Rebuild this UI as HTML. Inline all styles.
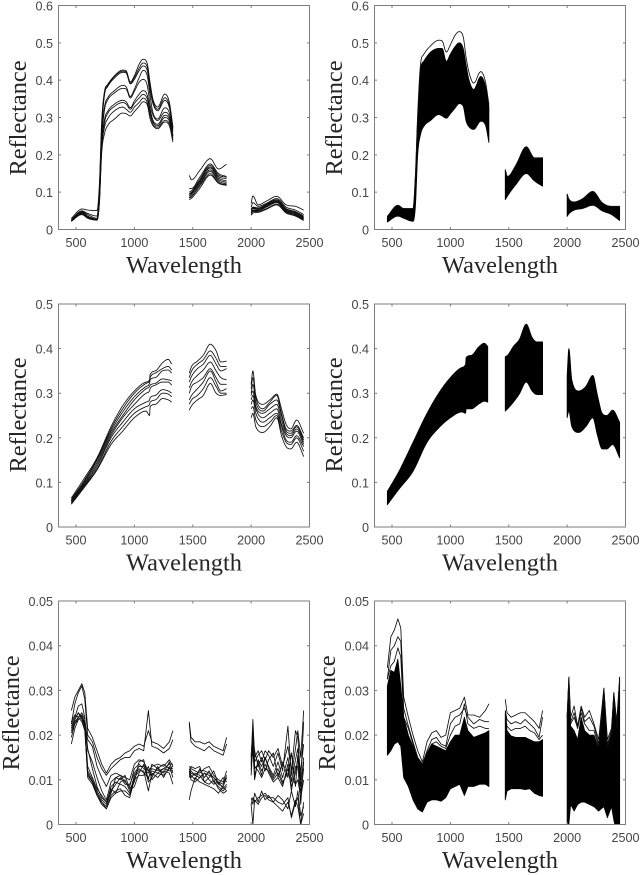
<!DOCTYPE html>
<html>
<head>
<meta charset="utf-8">
<title>Reflectance spectra</title>
<style>
html,body{margin:0;padding:0;background:#fff;width:640px;height:875px;overflow:hidden}
svg{display:block}
.tick{font-family:"Liberation Sans",sans-serif;font-size:12.6px;fill:#454545}
.title{font-family:"Liberation Serif",serif;font-size:24.4px;fill:#262626}
</style>
</head>
<body>
<svg id="chart" xmlns="http://www.w3.org/2000/svg" width="640" height="875" viewBox="0 0 640 875">
<defs><filter id="soft" filterUnits="userSpaceOnUse" x="0" y="0" width="640" height="875"><feGaussianBlur stdDeviation="0.35"/></filter></defs>
<g id="root" filter="url(#soft)"></g>
</svg>
<script>
const xTicks = [500,1000,1500,2000,2500];
const yTicksTop = [0,0.1,0.2,0.3,0.4,0.5,0.6];
const yTicksMiddle = [0,0.1,0.2,0.3,0.4,0.5];
const yTicksBottom = [0,0.01,0.02,0.03,0.04,0.05];
const yLabelsTop = ["0","0.1","0.2","0.3","0.4","0.5","0.6"];
const yLabelsMiddle = ["0","0.1","0.2","0.3","0.4","0.5"];
const yLabelsBottom = ["0","0.01","0.02","0.03","0.04","0.05"];

const wavesTop = [460,550,600,680,700,720,745,770,830,900,930,965,1000,1040,1075,1110,1135,1160,1200,1260,1300,1330,1470,1490,1560,1650,1720,1790,2000,2015,2060,2130,2220,2300,2380,2450];
const wavesMiddle = [460,560,680,800,900,1000,1100,1130,1135,1180,1240,1290,1320,1470,1490,1540,1590,1650,1700,1740,1790,2000,2015,2040,2100,2160,2220,2260,2300,2340,2390,2450];
const wavesBottom = [460,490,520,550,575,600,640,680,720,760,800,840,880,920,960,1000,1040,1080,1120,1150,1200,1250,1300,1330,1470,1485,1520,1560,1600,1640,1680,1720,1760,1790,2000,2015,2030,2060,2090,2120,2150,2190,2230,2270,2315,2345,2380,2400,2425,2450];

const topLeftSeries = [
[.030,.055,.052,.051,.120,.290,.372,.388,.412,.427,.425,.395,.412,.442,.456,.445,.392,.348,.328,.363,.340,.275,.145,.133,.158,.190,.162,.175,.070,.090,.066,.076,.089,.066,.062,.052],
[.027,.050,.043,.036,.110,.275,.368,.385,.410,.424,.422,.392,.407,.432,.446,.436,.382,.342,.322,.353,.332,.272,.110,.110,.140,.176,.150,.142,.060,.072,.062,.070,.083,.060,.052,.040],
[.025,.048,.040,.030,.100,.265,.362,.382,.406,.421,.419,.390,.402,.425,.438,.426,.372,.336,.318,.346,.326,.268,.100,.104,.134,.172,.146,.140,.055,.060,.058,.068,.080,.056,.048,.036],
[.024,.047,.036,.028,.092,.250,.330,.352,.372,.386,.382,.356,.376,.406,.426,.412,.356,.312,.296,.326,.312,.262,.096,.100,.130,.168,.142,.136,.052,.058,.056,.066,.078,.054,.046,.034],
[.024,.046,.034,.027,.086,.240,.322,.346,.366,.378,.376,.352,.370,.394,.402,.386,.334,.306,.292,.314,.302,.252,.094,.098,.128,.165,.138,.130,.050,.056,.054,.064,.076,.052,.044,.032],
[.023,.044,.033,.027,.080,.228,.296,.316,.336,.346,.342,.326,.344,.362,.372,.360,.322,.292,.282,.306,.296,.250,.090,.096,.124,.160,.134,.126,.046,.052,.052,.062,.074,.050,.042,.030],
[.023,.043,.032,.026,.076,.222,.288,.310,.330,.340,.336,.322,.338,.352,.362,.350,.315,.288,.278,.300,.290,.245,.086,.092,.120,.156,.130,.122,.044,.050,.050,.060,.072,.048,.040,.028],
[.022,.042,.031,.026,.072,.215,.275,.296,.318,.328,.322,.314,.328,.340,.352,.340,.306,.282,.274,.292,.284,.240,.084,.088,.116,.150,.126,.120,.040,.048,.048,.056,.068,.046,.038,.026],
[.022,.040,.030,.025,.068,.205,.258,.278,.296,.312,.310,.304,.316,.330,.342,.334,.296,.278,.270,.288,.278,.234,.080,.084,.110,.146,.124,.118,.038,.044,.046,.054,.066,.044,.036,.024]
];
const topRightUpper = [.035,.065,.056,.056,.140,.300,.430,.450,.475,.485,.485,.450,.470,.490,.500,.485,.440,.400,.375,.410,.385,.330,.160,.140,.170,.220,.190,.192,.095,.080,.073,.080,.102,.070,.062,.062];
const topRightLower = [.020,.036,.030,.022,.060,.200,.255,.275,.292,.308,.304,.298,.310,.325,.337,.330,.290,.275,.268,.290,.280,.233,.080,.090,.120,.150,.130,.116,.035,.042,.052,.056,.065,.050,.040,.024];
const topRightOutliers = [
[.035,.065,.056,.056,.145,.310,.445,.468,.492,.507,.505,.475,.495,.520,.530,.516,.460,.420,.392,.423,.396,.335,.160,.142,.172,.222,.192,.192,.095,.082,.074,.082,.102,.072,.062,.062]
];

const middleLeftSeries = [
[.065,.105,.155,.225,.272,.305,.325,.330,.342,.350,.368,.376,.365,.345,.360,.372,.385,.410,.395,.370,.372,.320,.350,.295,.275,.285,.298,.265,.230,.220,.240,.210],
[.062,.100,.152,.220,.265,.300,.322,.328,.335,.345,.355,.360,.352,.335,.350,.365,.375,.395,.378,.360,.360,.310,.335,.290,.265,.280,.295,.255,.220,.215,.228,.200],
[.060,.098,.150,.215,.258,.292,.315,.322,.330,.335,.350,.352,.345,.325,.338,.355,.365,.385,.365,.350,.355,.300,.320,.280,.260,.275,.285,.250,.215,.210,.225,.195],
[.058,.095,.145,.210,.250,.285,.310,.315,.318,.322,.332,.330,.328,.312,.325,.340,.352,.370,.350,.335,.330,.295,.305,.270,.255,.265,.275,.240,.210,.205,.220,.190],
[.056,.092,.140,.205,.245,.275,.300,.305,.310,.318,.325,.325,.318,.300,.315,.325,.335,.355,.335,.320,.320,.285,.295,.265,.245,.255,.265,.230,.205,.200,.215,.185],
[.055,.090,.135,.200,.235,.265,.280,.285,.290,.295,.308,.305,.300,.285,.295,.310,.325,.350,.325,.305,.310,.275,.285,.255,.235,.245,.255,.225,.195,.190,.205,.180],
[.053,.088,.130,.192,.225,.255,.270,.275,.280,.285,.300,.298,.292,.275,.285,.295,.310,.335,.315,.300,.300,.265,.270,.240,.225,.235,.250,.215,.190,.185,.200,.170],
[.051,.085,.128,.185,.215,.245,.260,.250,.270,.275,.288,.285,.280,.262,.272,.285,.295,.322,.300,.295,.297,.245,.255,.225,.212,.225,.245,.205,.180,.175,.190,.158]
];
const middleRightUpper = [.080,.125,.190,.255,.300,.335,.358,.365,.380,.385,.403,.412,.405,.382,.385,.405,.420,.455,.425,.415,.415,.340,.400,.330,.305,.315,.340,.295,.255,.250,.262,.235];
const middleRightLower = [.050,.085,.125,.190,.222,.245,.258,.255,.265,.265,.275,.282,.280,.260,.265,.280,.298,.325,.305,.297,.297,.245,.260,.225,.212,.225,.245,.205,.175,.175,.185,.155];

const bottomLeftSeries = [
[.0255,.0285,.0300,.0315,.0295,.0215,.0195,.0165,.0135,.0115,.0135,.0145,.0150,.0160,.0165,.0175,.0180,.0175,.0210,.0185,.0180,.0170,.0185,.0210,.0230,.0195,.0185,.0185,.0180,.0185,.0175,.0170,.0165,.0195,.0140,.0235,.0150,.0165,.0140,.0165,.0155,.0130,.0160,.0120,.0220,.0110,.0170,.0210,.0150,.0255],
[.0225,.0270,.0295,.0310,.0280,.0200,.0185,.0150,.0125,.0110,.0125,.0135,.0145,.0150,.0150,.0165,.0170,.0165,.0255,.0175,.0170,.0160,.0170,.0190,.0225,.0185,.0175,.0170,.0165,.0175,.0165,.0160,.0155,.0180,.0150,.0220,.0140,.0155,.0165,.0145,.0165,.0150,.0170,.0130,.0175,.0120,.0210,.0195,.0100,.0230],
[.0225,.0240,.0265,.0270,.0240,.0165,.0140,.0105,.0075,.0055,.0095,.0105,.0110,.0095,.0085,.0125,.0135,.0125,.0115,.0125,.0120,.0125,.0135,.0135,.0130,.0125,.0120,.0115,.0125,.0130,.0110,.0100,.0095,.0120,.0130,.0205,.0125,.0135,.0110,.0150,.0130,.0110,.0140,.0105,.0150,.0095,.0145,.0170,.0085,.0150],
[.0210,.0230,.0240,.0245,.0225,.0115,.0095,.0070,.0050,.0040,.0075,.0090,.0105,.0090,.0090,.0115,.0130,.0130,.0120,.0110,.0125,.0135,.0125,.0130,.0125,.0120,.0110,.0120,.0120,.0115,.0105,.0095,.0090,.0110,.0110,.0180,.0130,.0120,.0105,.0125,.0120,.0100,.0115,.0090,.0125,.0085,.0115,.0150,.0070,.0125],
[.0180,.0215,.0235,.0240,.0220,.0105,.0090,.0065,.0045,.0035,.0060,.0070,.0075,.0075,.0065,.0105,.0120,.0120,.0075,.0115,.0105,.0120,.0115,.0090,.0055,.0075,.0105,.0095,.0090,.0085,.0080,.0070,.0085,.0075,.0045,.0000,.0055,.0045,.0060,.0065,.0055,.0050,.0040,.0030,.0050,.0020,.0055,.0040,.0000,.0025],
[.0195,.0225,.0235,.0240,.0230,.0190,.0175,.0130,.0105,.0085,.0110,.0115,.0110,.0105,.0100,.0135,.0145,.0140,.0120,.0130,.0135,.0130,.0145,.0130,.0125,.0115,.0110,.0105,.0115,.0110,.0105,.0090,.0085,.0105,.0120,.0190,.0110,.0140,.0120,.0135,.0115,.0095,.0105,.0085,.0135,.0075,.0130,.0130,.0045,.0140],
[.0215,.0235,.0250,.0235,.0215,.0120,.0100,.0075,.0055,.0045,.0085,.0095,.0090,.0085,.0070,.0110,.0125,.0115,.0105,.0120,.0115,.0125,.0120,.0120,.0120,.0110,.0100,.0125,.0105,.0120,.0095,.0085,.0075,.0085,.0045,.0060,.0050,.0060,.0065,.0070,.0060,.0060,.0050,.0045,.0060,.0015,.0050,.0060,.0000,.0050],
[.0205,.0225,.0240,.0230,.0210,.0110,.0095,.0065,.0050,.0035,.0065,.0075,.0080,.0065,.0060,.0100,.0110,.0110,.0130,.0100,.0115,.0110,.0125,.0125,.0115,.0105,.0115,.0110,.0095,.0090,.0100,.0080,.0070,.0075,.0135,.0165,.0100,.0145,.0130,.0150,.0125,.0105,.0125,.0095,.0115,.0105,.0090,.0100,.0060,.0100],
[.0230,.0245,.0240,.0250,.0235,.0170,.0125,.0085,.0060,.0050,.0070,.0105,.0100,.0110,.0080,.0095,.0140,.0145,.0100,.0135,.0125,.0115,.0140,.0115,.0105,.0130,.0125,.0130,.0095,.0105,.0120,.0090,.0105,.0095,.0155,.0200,.0165,.0130,.0150,.0120,.0145,.0160,.0105,.0140,.0105,.0160,.0085,.0155,.0120,.0180],
[.0220,.0235,.0250,.0240,.0225,.0130,.0105,.0080,.0065,.0050,.0080,.0070,.0095,.0100,.0075,.0085,.0115,.0135,.0095,.0105,.0130,.0105,.0130,.0105,.0120,.0100,.0095,.0105,.0115,.0100,.0090,.0095,.0080,.0090,.0060,.0045,.0070,.0050,.0075,.0055,.0065,.0050,.0065,.0055,.0035,.0075,.0040,.0075,.0020,.0040]
];
const bottomRightUpper = [.0310,.0345,.0340,.0370,.0310,.0240,.0200,.0175,.0150,.0135,.0160,.0180,.0175,.0170,.0165,.0185,.0200,.0200,.0240,.0210,.0195,.0200,.0205,.0210,.0250,.0210,.0198,.0195,.0195,.0195,.0190,.0185,.0185,.0190,.0240,.0330,.0220,.0210,.0190,.0240,.0210,.0200,.0200,.0170,.0305,.0170,.0200,.0295,.0210,.0330];
const bottomRightLower = [.0155,.0165,.0180,.0185,.0175,.0105,.0085,.0055,.0035,.0028,.0050,.0055,.0055,.0052,.0060,.0080,.0085,.0090,.0065,.0085,.0085,.0090,.0090,.0085,.0055,.0075,.0080,.0080,.0080,.0078,.0080,.0070,.0065,.0063,-.0020,.0000,.0045,.0030,.0045,.0050,.0050,.0045,.0040,.0030,.0040,.0015,.0040,.0010,-.0020,.0000];
const bottomRightOutliers = [
[.0350,.0420,.0435,.0460,.0440,.0285,.0240,.0200,.0165,.0140,.0185,.0205,.0210,.0195,.0200,.0250,.0255,.0260,.0285,.0245,.0245,.0240,.0255,.0270,.0280,.0250,.0240,.0245,.0250,.0250,.0240,.0230,.0215,.0255,.0245,.0330,.0240,.0265,.0220,.0265,.0240,.0255,.0225,.0190,.0305,.0190,.0215,.0295,.0230,.0330],
[.0325,.0390,.0400,.0420,.0410,.0260,.0220,.0185,.0150,.0135,.0165,.0190,.0195,.0180,.0175,.0225,.0240,.0245,.0260,.0240,.0225,.0235,.0230,.0230,.0255,.0235,.0225,.0230,.0225,.0235,.0225,.0215,.0195,.0240,.0240,.0325,.0230,.0250,.0215,.0260,.0230,.0240,.0220,.0180,.0300,.0180,.0210,.0290,.0225,.0325],
[.0325,.0355,.0365,.0395,.0375,.0240,.0215,.0180,.0150,.0135,.0160,.0180,.0185,.0175,.0170,.0200,.0220,.0225,.0270,.0225,.0215,.0220,.0215,.0215,.0255,.0220,.0210,.0215,.0215,.0220,.0210,.0205,.0190,.0200,.0240,.0310,.0225,.0240,.0215,.0250,.0225,.0210,.0210,.0175,.0295,.0175,.0205,.0280,.0215,.0320]
];

const NS = "http://www.w3.org/2000/svg";
const root = document.getElementById("root");
const X_MIN = 350, X_MAX = 2500, SEGMENT_GAP = 130, SAMPLES = 6;

function make(parent, tag, attrs, text) {
  const el = document.createElementNS(NS, tag);
  for (const k in attrs) el.setAttribute(k, attrs[k]);
  if (text !== undefined) el.textContent = text;
  parent.appendChild(el);
  return el;
}

function segments(waves) {
  const out = [];
  let start = 0;
  for (let i = 1; i <= waves.length; i++) {
    if (i === waves.length || waves[i] - waves[i - 1] > SEGMENT_GAP) {
      out.push([start, i]);
      start = i;
    }
  }
  return out;
}

/* Points of one spectral segment; monotone cubic between readings when smooth. */
function segmentPoints(waves, values, s, smooth) {
  const xv = waves.slice(s[0], s[1]);
  const yv = values.slice(s[0], s[1]);
  const n = xv.length;
  if (!smooth || n < 3) return xv.map(function (x, i) { return [x, yv[i]]; });
  const d = [];
  for (let i = 0; i < n - 1; i++) d.push((yv[i + 1] - yv[i]) / (xv[i + 1] - xv[i]));
  const m = [d[0]];
  for (let i = 1; i < n - 1; i++) m.push(d[i - 1] * d[i] <= 0 ? 0 : (d[i - 1] + d[i]) / 2);
  m.push(d[n - 2]);
  for (let i = 0; i < n - 1; i++) {
    if (d[i] === 0) { m[i] = 0; m[i + 1] = 0; continue; }
    const a = m[i] / d[i], b = m[i + 1] / d[i], r = a * a + b * b;
    if (r > 9) {
      const t = 3 / Math.sqrt(r);
      m[i] = t * a * d[i];
      m[i + 1] = t * b * d[i];
    }
  }
  const pts = [];
  for (let i = 0; i < n - 1; i++) {
    const h = xv[i + 1] - xv[i];
    for (let k = 0; k < SAMPLES; k++) {
      const t = k / SAMPLES, t2 = t * t, t3 = t2 * t;
      const y = (2 * t3 - 3 * t2 + 1) * yv[i] + (t3 - 2 * t2 + t) * h * m[i] + (-2 * t3 + 3 * t2) * yv[i + 1] + (t3 - t2) * h * m[i + 1];
      pts.push([xv[i] + t * h, y]);
    }
  }
  pts.push([xv[n - 1], yv[n - 1]]);
  return pts;
}

function linePath(waves, values, xs, ys, smooth) {
  let d = "";
  segments(waves).forEach(function (s) {
    segmentPoints(waves, values, s, smooth).forEach(function (p, i) {
      d += (i === 0 ? "M" : "L") + xs(p[0]).toFixed(2) + " " + ys(p[1]).toFixed(2);
    });
  });
  return d;
}

function bandPath(waves, upper, lower, xs, ys, smooth) {
  let d = "";
  segments(waves).forEach(function (s) {
    const up = segmentPoints(waves, upper, s, smooth);
    const low = segmentPoints(waves, lower, s, smooth).reverse();
    up.forEach(function (p, i) {
      d += (i === 0 ? "M" : "L") + xs(p[0]).toFixed(2) + " " + ys(p[1]).toFixed(2);
    });
    low.forEach(function (p) {
      d += "L" + xs(p[0]).toFixed(2) + " " + ys(p[1]).toFixed(2);
    });
    d += "Z";
  });
  return d;
}

function drawPanel(p) {
  const g = make(root, "g", {});
  
  

  const yMax = p.yTicks[p.yTicks.length - 1];
  const xs = function (w) { return p.left + (w - X_MIN) / (X_MAX - X_MIN) * p.width; };
  const ys = function (v) { return p.bottom - v / yMax * (p.bottom - p.top); };

  const clipId = p.name + "-clip";
  const clip = make(g, "clipPath", { id: clipId });
  make(clip, "rect", { x: p.left, y: p.top, width: p.width, height: p.bottom - p.top });

  const marks = make(g, "g", { "clip-path": "url(#" + clipId + ")" });
  
  

  if (p.upper) {
    const band = make(marks, "path", {
      d: bandPath(p.waves, p.upper, p.lower, xs, ys, p.smooth),
      fill: "#000", stroke: "#000", "stroke-width": 0.8, "stroke-linejoin": "round"
    });
    
    
  }
  (p.series || []).forEach(function (values) {
    const line = make(marks, "path", {
      d: linePath(p.waves, values, xs, ys, p.smooth),
      fill: "none", stroke: "#111", "stroke-width": 0.85, "stroke-linejoin": "round"
    });
    
    
  });

  const frame = make(g, "rect", {
    x: p.left, y: p.top, width: p.width, height: p.bottom - p.top,
    fill: "none", stroke: "#7d7d7d", "stroke-width": 1
  });
  
  

  xTicks.forEach(function (t) {
    const x = xs(t);
    const mark = make(g, "path", {
      d: "M" + x + " " + p.bottom + "v-2.5M" + x + " " + p.top + "v2.5",
      stroke: "#7d7d7d", "stroke-width": 1, fill: "none"
    });
    
    
    const label = make(g, "text", {
      x: x, y: p.bottom + 17.5, "text-anchor": "middle", "class": "tick"
    }, String(t));
    
    
  });

  p.yTicks.forEach(function (t, i) {
    const y = ys(t);
    const mark = make(g, "path", {
      d: "M" + p.left + " " + y + "h2.5M" + (p.left + p.width) + " " + y + "h-2.5",
      stroke: "#7d7d7d", "stroke-width": 1, fill: "none"
    });
    
    
    const label = make(g, "text", {
      x: p.left - 5.5, y: y + 5, "text-anchor": "end", "class": "tick"
    }, p.yLabels[i]);
    
    
  });

  const xTitle = make(g, "text", {
    x: p.left + p.width / 2, y: p.bottom + 43.5, "text-anchor": "middle", "class": "title"
  }, "Wavelength");
  
  

  const yTitle = make(g, "text", {
    transform: "translate(" + p.yTitleX + " " + p.yTitleY + ") rotate(-90)",
    "text-anchor": "middle", "class": "title"
  }, "Reflectance");
  
  
}

const L = 58.5, R = 374.5, W = 251;
drawPanel({ name: "panel-top-left", smooth: true, left: L, width: W, top: 5.5, bottom: 229.5, yTicks: yTicksTop, yLabels: yLabelsTop, waves: wavesTop, series: topLeftSeries, yTitleX: 26, yTitleY: 118 });
drawPanel({ name: "panel-top-right", smooth: true, left: R, width: W, top: 5.5, bottom: 229.5, yTicks: yTicksTop, yLabels: yLabelsTop, waves: wavesTop, upper: topRightUpper, lower: topRightLower, series: topRightOutliers, yTitleX: 342, yTitleY: 118 });
drawPanel({ name: "panel-middle-left", smooth: true, left: L, width: W, top: 304, bottom: 527, yTicks: yTicksMiddle, yLabels: yLabelsMiddle, waves: wavesMiddle, series: middleLeftSeries, yTitleX: 26, yTitleY: 415 });
drawPanel({ name: "panel-middle-right", smooth: true, left: R, width: W, top: 304, bottom: 527, yTicks: yTicksMiddle, yLabels: yLabelsMiddle, waves: wavesMiddle, upper: middleRightUpper, lower: middleRightLower, yTitleX: 342, yTitleY: 415 });
drawPanel({ name: "panel-bottom-left", smooth: false, left: L, width: W, top: 601, bottom: 824.5, yTicks: yTicksBottom, yLabels: yLabelsBottom, waves: wavesBottom, series: bottomLeftSeries, yTitleX: 19, yTitleY: 713 });
drawPanel({ name: "panel-bottom-right", smooth: false, left: R, width: W, top: 601, bottom: 824.5, yTicks: yTicksBottom, yLabels: yLabelsBottom, waves: wavesBottom, upper: bottomRightUpper, lower: bottomRightLower, series: bottomRightOutliers, yTitleX: 335, yTitleY: 713 });
</script>
</body>
</html>
